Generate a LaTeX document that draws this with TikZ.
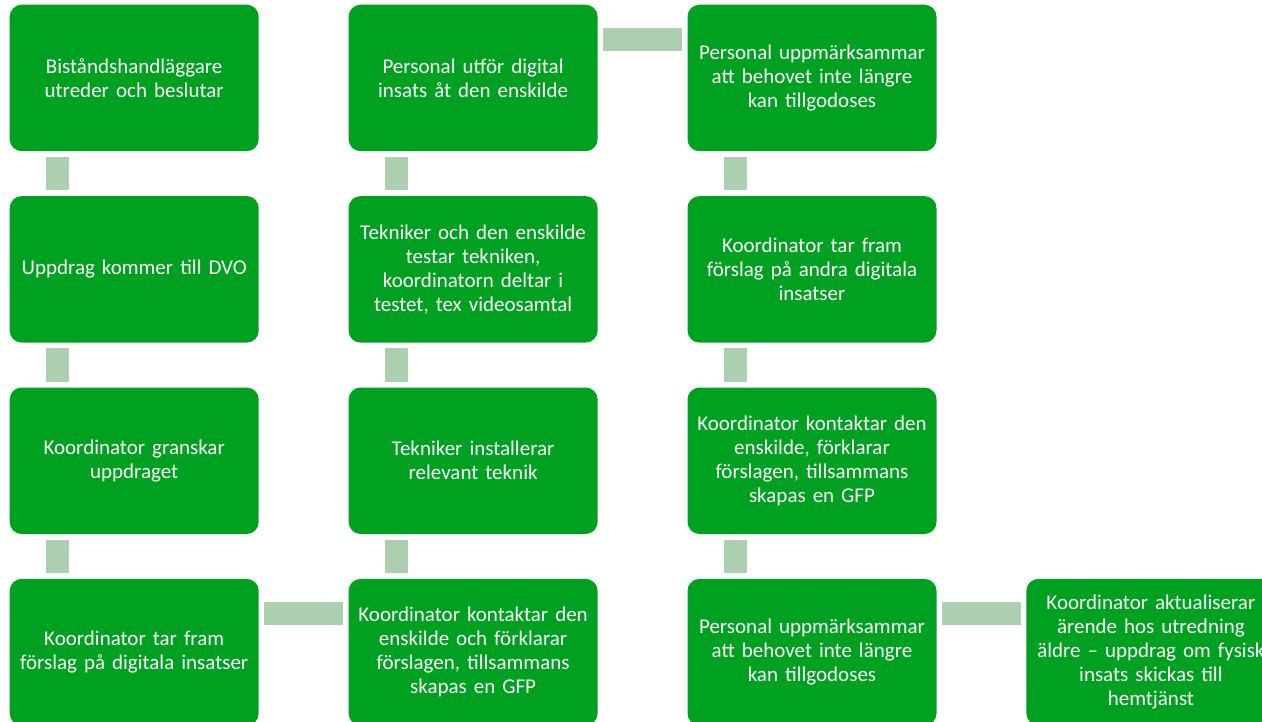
\documentclass[tikz,border=0pt]{standalone}
\usepackage{fontspec}
\setmainfont{Carlito}
\usetikzlibrary{positioning}
\definecolor{boxgreen}{RGB}{0,160,32}
\definecolor{linkgreen}{RGB}{172,207,176}

\begin{document}
\begin{tikzpicture}[
            x=1pt, y=-1pt, node distance=44.5pt and 89.5pt,
            box/.style={rectangle,rounded corners=12pt,fill=boxgreen,text=white,minimum width=249pt,minimum height=146.5pt,text width=240pt,align=center,inner sep=0pt,font=\fontsize{21pt}{24pt}\selectfont},
            link/.style={draw=linkgreen,line width=23pt,shorten <=5.5pt,shorten >=5.5pt}
        ]
          \useasboundingbox (0,0) rectangle (1262,722);
          % first column, top to bottom
          \node[box,anchor=north west] (beslut) at (9.5,4.5) {Biståndshandläggare\\utreder och beslutar};
          \node[box,below=of beslut] (uppdrag) {Uppdrag kommer till DVO};
          \node[box,below=of uppdrag] (granskar) {Koordinator granskar\\uppdraget};
          \node[box,below=of granskar] (forslag) {Koordinator tar fram\\förslag på digitala insatser};
          % second column, bottom to top
          \node[box,right=of forslag] (kontakt) {Koordinator kontaktar den\\enskilde och förklarar\\förslagen, tillsammans\\skapas en GFP};
          \node[box,above=of kontakt] (installerar) {Tekniker installerar\\relevant teknik};
          \node[box,above=of installerar] (testar) {Tekniker och den enskilde\\testar tekniken,\\koordinatorn deltar i\\testet, tex videosamtal};
          \node[box,above=of testar] (utfor) {Personal utför digital\\insats åt den enskilde};
          % third column, top to bottom
          \node[box,right=of utfor] (behov) {Personal uppmärksammar\\att behovet inte längre\\kan tillgodoses};
          \node[box,below=of behov] (andra) {Koordinator tar fram\\förslag på andra digitala\\insatser};
          \node[box,below=of andra] (kontakt2) {Koordinator kontaktar den\\enskilde, förklarar\\förslagen, tillsammans\\skapas en GFP};
          \node[box,below=of kontakt2] (behov2) {Personal uppmärksammar\\att behovet inte längre\\kan tillgodoses};
          \node[box,right=of behov2] (aktual) {Koordinator aktualiserar\\ärende hos utredning\\\makebox[0pt][c]{äldre – uppdrag om fysisk}\\insats skickas till\\hemtjänst};
          % connectors
          \foreach \a/\b in {beslut/uppdrag,uppdrag/granskar,granskar/forslag,installerar/kontakt,testar/installerar,utfor/testar,behov/andra,andra/kontakt2,kontakt2/behov2}
            \draw[link] ([xshift=48pt]\a.south west) -- ([xshift=48pt]\b.north west);
          \foreach \a/\b in {forslag/kontakt,utfor/behov,behov2/aktual}
            \draw[link] ([yshift=-35pt]\a.north east) -- ([yshift=-35pt]\b.north west);
        \end{tikzpicture}
\end{document}
